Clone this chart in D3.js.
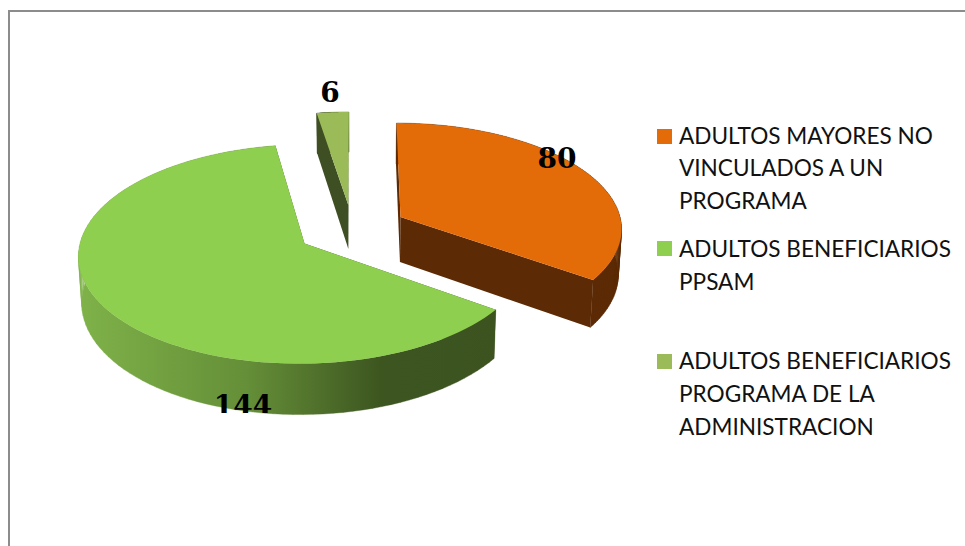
<!DOCTYPE html>
<html><head><meta charset="utf-8">
<script src="https://cdn.jsdelivr.net/npm/d3@7"></script>
<style>html,body{margin:0;padding:0;background:#fff}svg{display:block}</style>
</head><body><svg id="c" width="965" height="546"></svg>
<script>
// data
const categories = ["ADULTOS MAYORES NO VINCULADOS A UN PROGRAMA","ADULTOS BENEFICIARIOS PPSAM","ADULTOS BENEFICIARIOS PROGRAMA DE LA ADMINISTRACION"];
const values = [80,144,6];
const legendLines = [["ADULTOS MAYORES NO","VINCULADOS A UN","PROGRAMA"],["ADULTOS BENEFICIARIOS","PPSAM"],["ADULTOS BENEFICIARIOS","PROGRAMA DE LA","ADMINISTRACION"]];
// layout / style
const topColors = ["#e36c09","#8fcf4f","#9bbb59"];
const sideColors = ["#5c2a04","url(#gw)","#3f4f24"];
const cutColors = ["#5c2a04","#3e5420","#3f4f24"];
const apexX = [400.5,304.5,348.3], apexY = [217,243.5,205];
const radX = [219.5,224.5,216], radY = [103,108.5,102], depth = [45,46,44];
const labelX = [557,243,330], labelY = [168.3,415,102.3];
const legendY = [129,241,354], legendBase = [143.5,257,369.3];
const persp = 0.0968, vanish = 355, shrink = 0.012;

const svg = d3.select("#c");
const defs = svg.append("defs");
const g = defs.append("linearGradient").attr("id","gw").attr("gradientUnits","userSpaceOnUse")
  .attr("x1",79).attr("x2",497).attr("y1",0).attr("y2",0);
[[0,"#7fb249"],[0.4,"#658f38"],[0.72,"#3d5620"],[1,"#3c5320"]].forEach(d=>g.append("stop").attr("offset",d[0]).attr("stop-color",d[1]));
defs.append("clipPath").attr("id","cut").append("rect").attr("x",0).attr("y",0).attr("width",965).attr("height",413);

svg.append("path").attr("d","M9,546V11H965").attr("fill","none").attr("stroke","#8c8c8c").attr("stroke-width",2);

const arcs = d3.pie().sort(null).startAngle(0).endAngle(2*Math.PI)(values);
const project = (i,t,r,z)=>{
  const X = Math.sin(t)*r*radX[i], Y = Math.cos(t)*r, s = 1/(1+persp*Y);
  return [vanish+(apexX[i]-vanish+X)*s*(1-shrink*z), apexY[i]-Y*s*radY[i]+z*s*depth[i]];
};
const line = d3.line();
const sweep = (a,b)=>d3.range(0,97).map(k=>a+(b-a)*k/96);

[2,0,1].forEach(i=>{
  const a = arcs[i], G = svg.append("g");
  [a.startAngle,a.endAngle].forEach(t=>{
    G.append("path").attr("d",line([project(i,t,0,0),project(i,t,1,0),project(i,t,1,1),project(i,t,0,1)])+"Z").attr("fill",cutColors[i]);
  });
  const ts = sweep(a.startAngle,a.endAngle);
  const wall = d3.pairs(ts).map(([u,v])=>line([project(i,u,1,0),project(i,v,1,0),project(i,v,1,1),project(i,u,1,1)])+"Z").join("");
  G.append("path").attr("d",wall).attr("fill",sideColors[i]).attr("stroke",sideColors[i]).attr("stroke-width",0.4);
  G.append("path").attr("d",line([project(i,0,0,0)].concat(ts.map(t=>project(i,t,1,0))))+"Z").attr("fill",topColors[i]);
});

svg.append("g").selectAll("text").data(values).join("text")
  .attr("x",(d,i)=>labelX[i]).attr("y",(d,i)=>labelY[i]).attr("text-anchor","middle")
  .attr("clip-path","url(#cut)")
  .attr("font-family","'DejaVu Serif',serif").attr("font-weight","bold").attr("font-size",28).attr("fill","#000")
  .text(d=>d);

const L = svg.append("g").selectAll("g").data(categories).join("g");
L.append("rect").attr("x",657).attr("y",(d,i)=>legendY[i]).attr("width",15).attr("height",15).attr("fill",(d,i)=>topColors[i]);
L.each(function(d,i){
  d3.select(this).selectAll("text").data(legendLines[i]).join("text")
    .attr("x",679).attr("y",(t,j)=>legendBase[i]+j*32.8)
    .attr("font-family","Lato,'Open Sans',sans-serif").attr("font-size",22.6).attr("fill","#111").text(t=>t);
});
</script></body></html>
